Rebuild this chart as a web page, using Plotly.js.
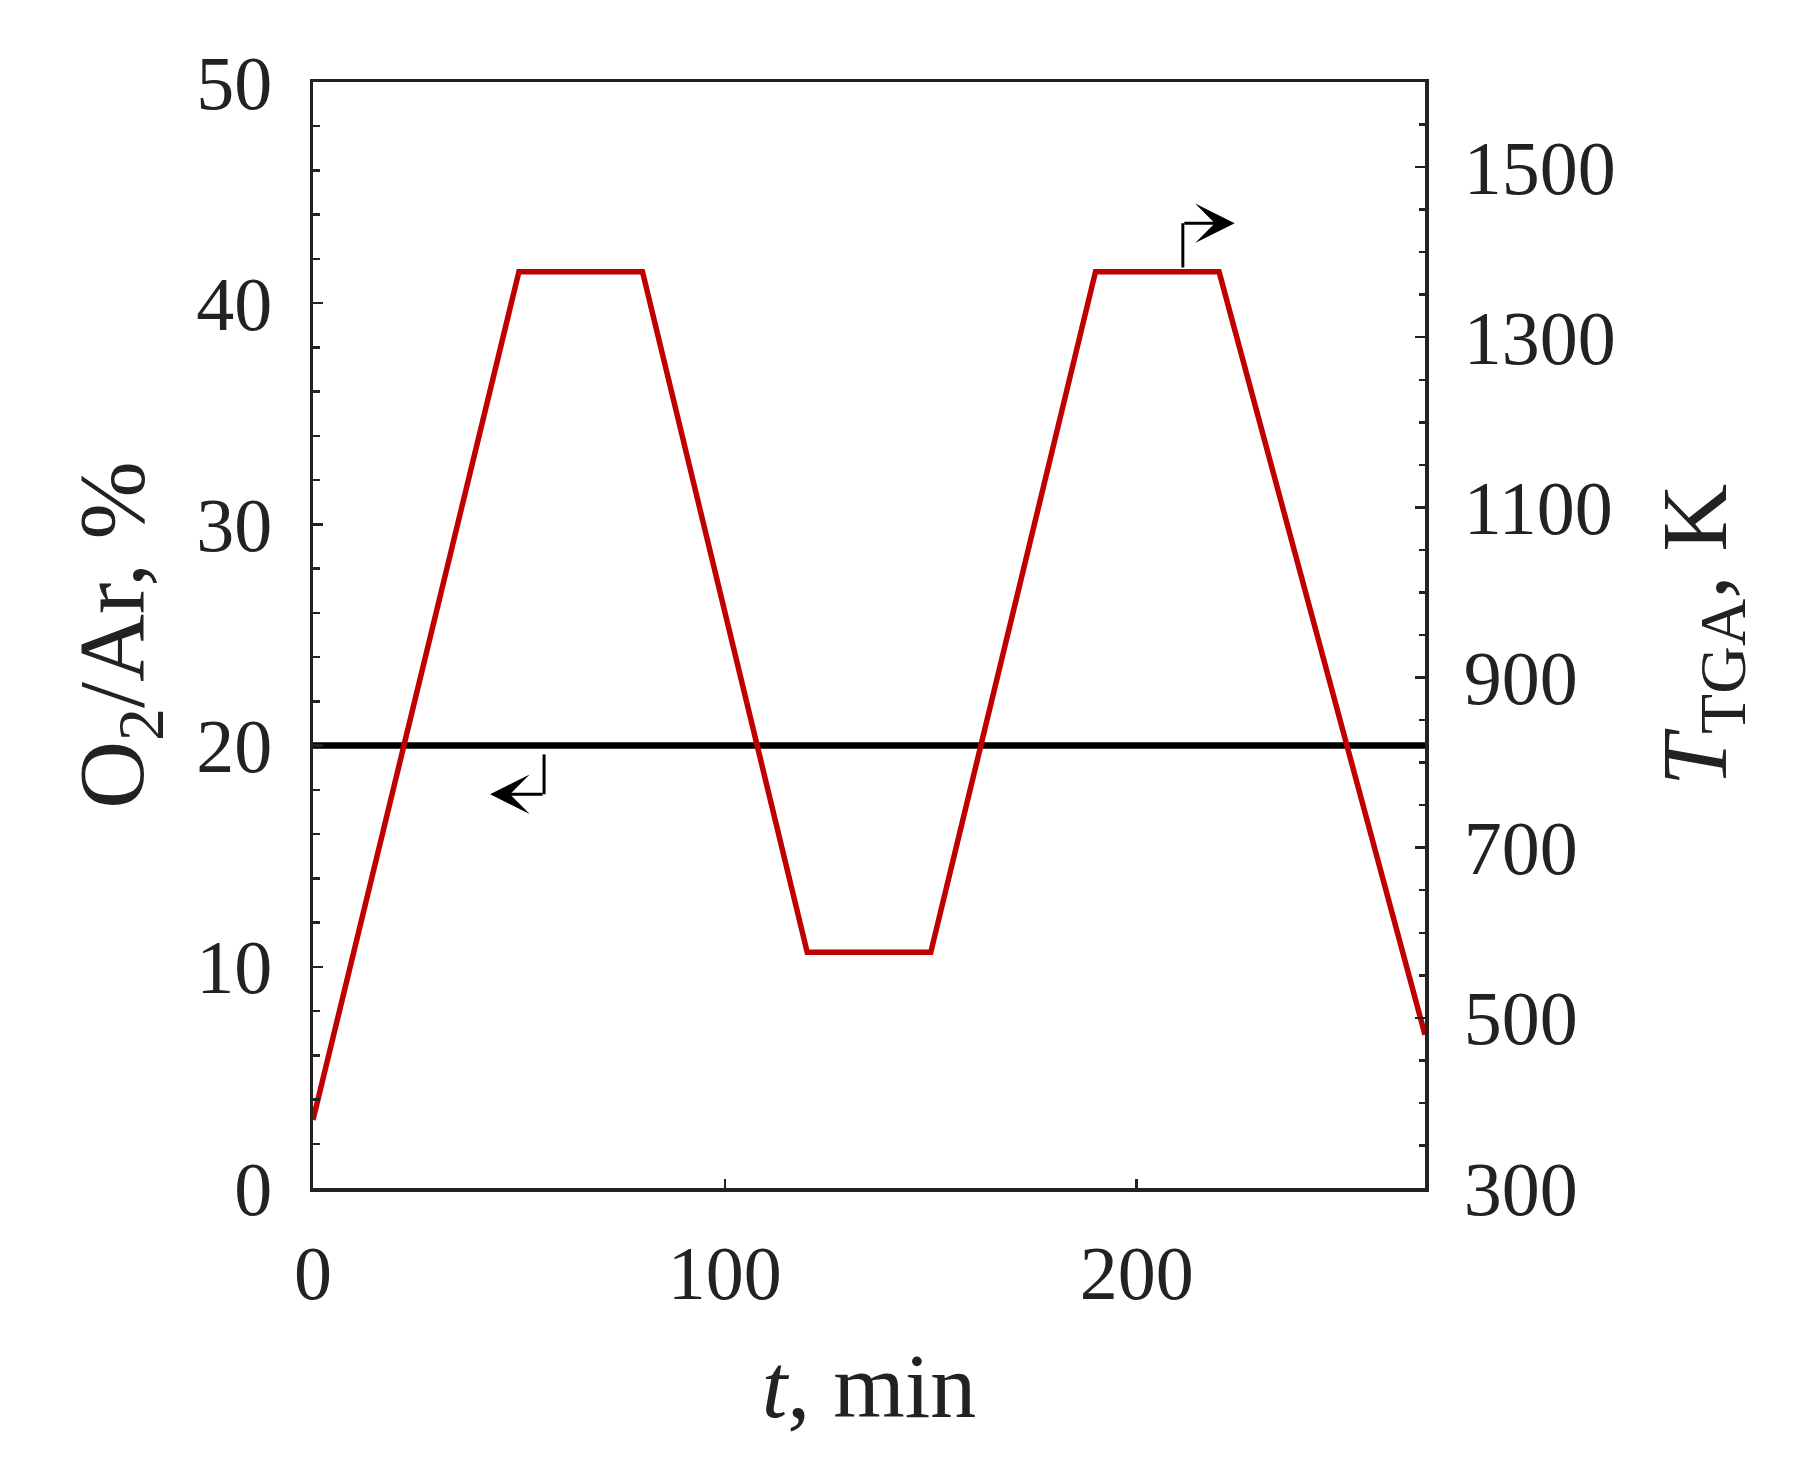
<!DOCTYPE html>
<html>
<head>
<meta charset="utf-8">
<script src="https://cdn.plot.ly/plotly-3.0.1.min.js"></script>
<style>html,body{margin:0;padding:0;background:#fff;}#chart{width:1808px;height:1472px;}</style>
</head>
<body>
<div id="chart"></div>
<script>
// Temperature program (right axis, K)
const timeT = [0, 50, 80, 120, 150, 190, 220, 270];
const tempTGA = [380, 1377, 1377, 577, 577, 1377, 1377, 480];
// O2 concentration (left axis, %)
const timeO2 = [0, 270];
const o2Ar = [20, 20];
// Axis ticks
const xTicks = [0, 100, 200];
const yLeftTicks = [0, 10, 20, 30, 40, 50];
const yRightTicks = [300, 500, 700, 900, 1100, 1300, 1500];

const FONT = "Liberation Serif, Times New Roman, DejaVu Serif, serif";
const AX = "#222";

const traces = [
  {x: timeO2, y: o2Ar, mode: "lines", line: {color: "#000", width: 6.5}, yaxis: "y", hoverinfo: "skip"},
  {x: timeT, y: tempTGA, mode: "lines", line: {color: "#c00000", width: 5.5}, yaxis: "y2", hoverinfo: "skip"}
];

const layout = {
  width: 1808, height: 1472,
  paper_bgcolor: "#fff", plot_bgcolor: "#fff",
  showlegend: false,
  margin: {l: 313, r: 383, t: 82, b: 284},
  font: {family: FONT, color: "#222", size: 76},
  xaxis: {
    range: [0, 270], tickvals: xTicks, ticktext: xTicks.map(String),
    showline: true, linecolor: AX, linewidth: 3.5, mirror: true,
    ticks: "inside", ticklen: 9, tickwidth: 2.5, tickcolor: AX,
    showgrid: false, zeroline: false,
    tickfont: {family: FONT, size: 76, color: "#222"},
    ticklabelstandoff: 16,
    title: {text: "<i>t</i>, min", font: {family: FONT, size: 92, color: "#222"}, standoff: 40}
  },
  yaxis: {
    range: [0, 50], tickvals: yLeftTicks, ticktext: yLeftTicks.map(String),
    showline: true, linecolor: AX, linewidth: 3.5,
    ticks: "inside", ticklen: 10, tickwidth: 2.5, tickcolor: AX,
    minor: {dtick: 2, ticks: "inside", ticklen: 7, tickwidth: 2.5, tickcolor: AX},
    showgrid: false, zeroline: false,
    tickfont: {family: FONT, size: 76, color: "#222"},
    ticklabelstandoff: 22,
    title: {text: "O<sub>2</sub>/Ar, %", font: {family: FONT, size: 94, color: "#222"}, standoff: 22}
  },
  yaxis2: {
    range: [300, 1600], tickvals: yRightTicks, ticktext: yRightTicks.map(String),
    overlaying: "y", side: "right",
    showline: true, linecolor: AX, linewidth: 3.5,
    ticks: "inside", ticklen: 10, tickwidth: 2.5, tickcolor: AX,
    minor: {dtick: 50, tick0: 300, ticks: "inside", ticklen: 6, tickwidth: 2.5, tickcolor: AX},
    showgrid: false, zeroline: false,
    tickfont: {family: FONT, size: 76, color: "#222"},
    ticklabelstandoff: 20,
    title: {text: "<i>T</i><sub>TGA</sub>, K", font: {family: FONT, size: 94, color: "#222"}, standoff: 46}
  },
  shapes: [
    {type: "line", xref: "x", yref: "y", x0: 56.1, x1: 56.1, y0: 19.6, y1: 17.8, line: {color: "#000", width: 3}},
    {type: "line", xref: "x", yref: "y2", x0: 211.2, x1: 211.2, y0: 1382, y1: 1434, line: {color: "#000", width: 3}}
  ],
  annotations: [
    {xref: "x", yref: "y", axref: "x", ayref: "y", x: 43, y: 17.8, ax: 56.1, ay: 17.8, text: "", showarrow: true,
     arrowhead: 3, arrowsize: 2.2, arrowwidth: 3, arrowcolor: "#000", standoff: 0, startstandoff: 0},
    {xref: "x", yref: "y2", axref: "x", ayref: "y2", x: 223.8, y: 1434, ax: 211.2, ay: 1434, text: "", showarrow: true,
     arrowhead: 3, arrowsize: 2.2, arrowwidth: 3, arrowcolor: "#000", standoff: 0, startstandoff: 0}
  ]
};

Plotly.newPlot("chart", traces, layout, {staticPlot: true, displayModeBar: false});
</script>
</body>
</html>
